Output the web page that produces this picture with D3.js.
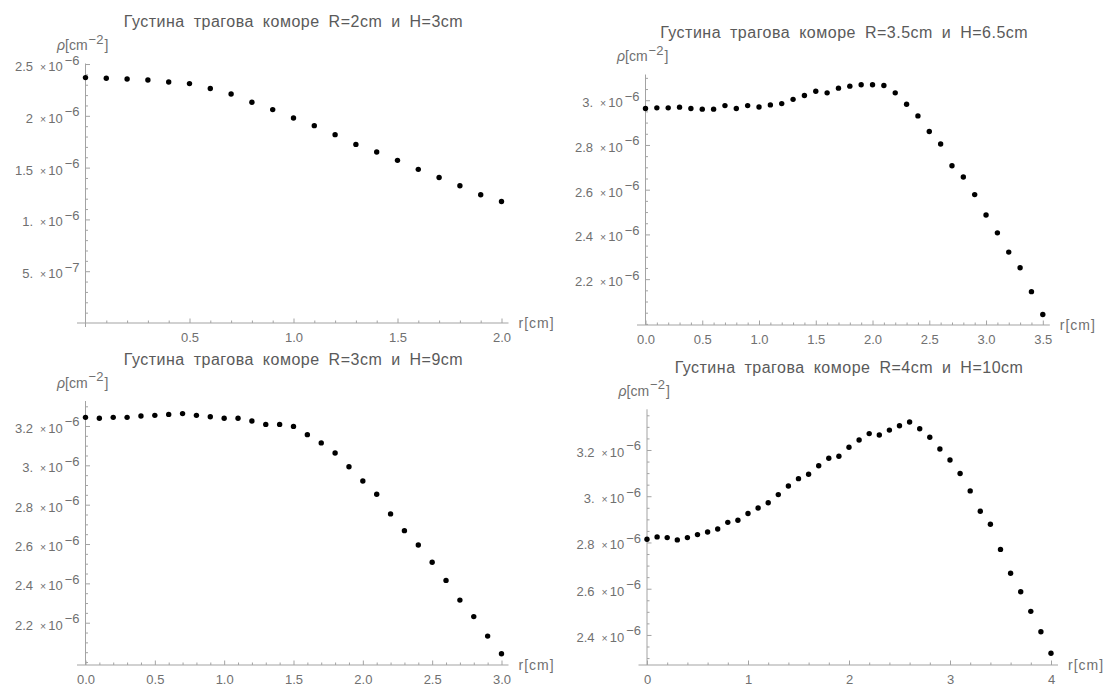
<!DOCTYPE html>
<html>
<head>
<meta charset="utf-8">
<script src="https://cdn.jsdelivr.net/npm/d3@7"></script>
<style>
  body { margin: 0; background: #fff; }
  svg { display: block; }
  text { font-family: "Liberation Sans", Arial, sans-serif; }
</style>
</head>
<body>
<svg id="chart" width="1105" height="686"></svg>
<script>
// Radial track density in four chamber geometries.
// r in cm, density in units of 10^-6 cm^-2.

const titles = [
  "Густина трагова коморе R=2cm и H=3cm",
  "Густина трагова коморе R=3.5cm и H=6.5cm",
  "Густина трагова коморе R=3cm и H=9cm",
  "Густина трагова коморе R=4cm и H=10cm"
];

const r1 = [0.0,0.1,0.2,0.3,0.4,0.5,0.6,0.7,0.8,0.9,1.0,1.1,1.2,1.3,1.4,1.5,1.6,1.7,1.8,1.9,2.0];
const rho1 = [2.369,2.363,2.356,2.346,2.327,2.311,2.263,2.211,2.131,2.060,1.979,1.905,1.818,1.724,1.650,1.570,1.483,1.405,1.325,1.238,1.173];

const r2 = [0.0,0.1,0.2,0.3,0.4,0.5,0.6,0.7,0.8,0.9,1.0,1.1,1.2,1.3,1.4,1.5,1.6,1.7,1.8,1.9,2.0,2.1,2.2,2.3,2.4,2.5,2.6,2.7,2.8,2.9,3.0,3.1,3.2,3.3,3.4,3.5];
const rho2 = [2.963,2.966,2.966,2.969,2.963,2.960,2.960,2.976,2.963,2.976,2.970,2.979,2.985,3.004,3.021,3.040,3.033,3.054,3.063,3.069,3.069,3.066,3.033,2.982,2.930,2.860,2.804,2.707,2.657,2.578,2.487,2.407,2.321,2.251,2.144,2.042];

const r3 = [0.0,0.1,0.2,0.3,0.4,0.5,0.6,0.7,0.8,0.9,1.0,1.1,1.2,1.3,1.4,1.5,1.6,1.7,1.8,1.9,2.0,2.1,2.2,2.3,2.4,2.5,2.6,2.7,2.8,2.9,3.0];
const rho3 = [3.244,3.239,3.244,3.244,3.251,3.254,3.259,3.263,3.254,3.247,3.239,3.239,3.225,3.208,3.208,3.198,3.156,3.114,3.063,2.993,2.920,2.853,2.753,2.668,2.595,2.507,2.415,2.315,2.231,2.132,2.042];

const r4 = [0.0,0.1,0.2,0.3,0.4,0.5,0.6,0.7,0.8,0.9,1.0,1.1,1.2,1.3,1.4,1.5,1.6,1.7,1.8,1.9,2.0,2.1,2.2,2.3,2.4,2.5,2.6,2.7,2.8,2.9,3.0,3.1,3.2,3.3,3.4,3.5,3.6,3.7,3.8,3.9,4.0];
const rho4 = [2.814,2.824,2.821,2.811,2.821,2.834,2.845,2.858,2.887,2.896,2.925,2.949,2.972,3.007,3.044,3.076,3.095,3.132,3.164,3.173,3.212,3.243,3.271,3.265,3.286,3.305,3.321,3.292,3.255,3.204,3.157,3.098,3.023,2.935,2.879,2.770,2.667,2.587,2.502,2.414,2.321];

// Axis ranges (x in cm, y in 10^-6 cm^-2)
const xDom1 = [0, 2.0],  yDom1 = [0, 2.505];
const xDom2 = [0, 3.5],  yDom2 = [1.995, 3.115];
const xDom3 = [0, 3.0],  yDom3 = [1.985, 3.327];
const xDom4 = [0, 4.0],  yDom4 = [2.27, 3.376];

// Tick values and labels
const xTicks1 = [0.5, 1.0, 1.5, 2.0];
const xTickLabels1 = ["0.5", "1.0", "1.5", "2.0"];
const xTicks2 = [0, 0.5, 1.0, 1.5, 2.0, 2.5, 3.0, 3.5];
const xTickLabels2 = ["0.0", "0.5", "1.0", "1.5", "2.0", "2.5", "3.0", "3.5"];
const xTicks3 = [0, 0.5, 1.0, 1.5, 2.0, 2.5, 3.0];
const xTickLabels3 = ["0.0", "0.5", "1.0", "1.5", "2.0", "2.5", "3.0"];
const xTicks4 = [0, 1, 2, 3, 4];
const xTickLabels4 = ["0", "1", "2", "3", "4"];

const yTicks1 = [0.5, 1.0, 1.5, 2.0, 2.5];
const yTickMant1 = ["5.", "1.", "1.5", "2", "2.5"];
const yTickExp1 = ["−7", "−6", "−6", "−6", "−6"];
const yTicks2 = [2.2, 2.4, 2.6, 2.8, 3.0];
const yTickMant2 = ["2.2", "2.4", "2.6", "2.8", "3."];
const yTickExp2 = ["−6", "−6", "−6", "−6", "−6"];
const yTicks3 = [2.2, 2.4, 2.6, 2.8, 3.0, 3.2];
const yTickMant3 = ["2.2", "2.4", "2.6", "2.8", "3.", "3.2"];
const yTickExp3 = ["−6", "−6", "−6", "−6", "−6", "−6"];
const yTicks4 = [2.4, 2.6, 2.8, 3.0, 3.2];
const yTickMant4 = ["2.4", "2.6", "2.8", "3.", "3.2"];
const yTickExp4 = ["−6", "−6", "−6", "−6", "−6"];

const xMinorStep = [0.1, 0.1, 0.1, 0.2];
const yMinorStep = [0.1, 0.05, 0.05, 0.05];

const AXIS = "#a3a3a3";
const LABEL = "#707070";
const TITLE = "#5a5a5a";

// Pixel frame of each panel: x range and y range of the plotting area
const frames = [
  { x: [85.5, 501.5],  y: [323, 63.5] },
  { x: [645.5, 1042.8], y: [325, 74.5] },
  { x: [85.5, 501.5],  y: [665, 401] },
  { x: [647, 1051],    y: [665, 409.3] }
];

const panels = [
  { title: titles[0], r: r1, rho: rho1, xDom: xDom1, yDom: yDom1, xT: xTicks1, xL: xTickLabels1, yT: yTicks1, yM: yTickMant1, yE: yTickExp1 },
  { title: titles[1], r: r2, rho: rho2, xDom: xDom2, yDom: yDom2, xT: xTicks2, xL: xTickLabels2, yT: yTicks2, yM: yTickMant2, yE: yTickExp2 },
  { title: titles[2], r: r3, rho: rho3, xDom: xDom3, yDom: yDom3, xT: xTicks3, xL: xTickLabels3, yT: yTicks3, yM: yTickMant3, yE: yTickExp3 },
  { title: titles[3], r: r4, rho: rho4, xDom: xDom4, yDom: yDom4, xT: xTicks4, xL: xTickLabels4, yT: yTicks4, yM: yTickMant4, yE: yTickExp4 }
];

const svg = d3.select("#chart");

panels.forEach((p, i) => {
  const f = frames[i];
  const x = d3.scaleLinear().domain(p.xDom).range(f.x);
  const y = d3.scaleLinear().domain(p.yDom).range(f.y);
  const g = svg.append("g");
  const x0 = x(p.xDom[0]), yBase = y(p.yDom[0]), yTop = y(p.yDom[1]);

  // minor ticks
  const xMinor = d3.range(p.xDom[0], p.xDom[1] + 1e-9, xMinorStep[i])
    .filter(v => !p.xT.some(t => Math.abs(t - v) < 1e-6) && v > p.xDom[0] + 1e-9);
  const yMinor = d3.range(Math.ceil(p.yDom[0] / yMinorStep[i] - 1e-6) * yMinorStep[i], p.yDom[1], yMinorStep[i])
    .filter(v => !p.yT.some(t => Math.abs(t - v) < 1e-6) && v > p.yDom[0] + 1e-6);

  const xAxisMinor = d3.axisBottom(x).tickValues(xMinor).tickSize(-2.5).tickSizeOuter(0).tickFormat("");
  const yAxisMinor = d3.axisLeft(y).tickValues(yMinor).tickSize(-2.5).tickSizeOuter(0).tickFormat("");
  g.append("g").attr("transform", `translate(0,${yBase})`).call(xAxisMinor);
  g.append("g").attr("transform", `translate(${x0},0)`).call(yAxisMinor);

  // major x ticks with labels
  const xAxis = d3.axisBottom(x).tickValues(p.xT).tickSize(-4.5).tickSizeOuter(0)
    .tickPadding(9.5).tickFormat((d, k) => p.xL[k]);
  const gx = g.append("g").attr("transform", `translate(0,${yBase})`).call(xAxis);

  // major y ticks; labels are written as mantissa × 10^exp
  const yAxis = d3.axisLeft(y).tickValues(p.yT).tickSize(-4.5).tickSizeOuter(0)
    .tickPadding(6).tickFormat("");
  const gy = g.append("g").attr("transform", `translate(${x0},0)`).call(yAxis);
  gy.selectAll(".tick text").each(function(d, k) {
    const t = d3.select(this).attr("dy", "6.5px").attr("x", -6);
    t.append("tspan").text(p.yM[k]);
    t.append("tspan").attr("dx", 7).style("font-size", "10.5px").text("×");
    t.append("tspan").attr("dx", 2).text("10");
    t.append("tspan").attr("dx", 2).attr("dy", -6.5).style("font-size", "13px").text(p.yE[k]);
  });

  [gx, gy].forEach(a => {
    a.select(".domain").remove();
    a.selectAll(".tick line").attr("stroke", AXIS);
    a.selectAll(".tick text").attr("fill", LABEL).style("font-size", "13px")
      .style("font-family", "'Liberation Sans', Arial, sans-serif");
  });
  g.selectAll(".domain").remove();
  g.selectAll(".tick line").attr("stroke", AXIS);

  // axis lines
  g.append("line").attr("x1", x0 - 8.5).attr("x2", x(p.xDom[1]) + 7)
    .attr("y1", yBase).attr("y2", yBase).attr("stroke", AXIS);
  g.append("line").attr("x1", x0).attr("x2", x0)
    .attr("y1", yBase + (i === 0 ? 4 : 0)).attr("y2", yTop).attr("stroke", AXIS);

  // axis titles
  g.append("text").attr("x", x(p.xDom[1]) + 17).attr("y", yBase + 4.5)
    .attr("fill", LABEL).style("font-size", "14px").style("letter-spacing", "1px").text("r[cm]");

  const yl = g.append("text").attr("x", x0 - 28.5).attr("y", yTop - 13.5)
    .attr("fill", LABEL).style("font-size", "14px");
  yl.append("tspan").style("font-style", "italic").text("ρ");
  yl.append("tspan").text("[cm");
  yl.append("tspan").attr("dx", 1).attr("dy", -6.5).style("font-size", "13px").text("−2");
  yl.append("tspan").attr("dx", 1).attr("dy", 6.5).text("]");

  // chart title
  g.append("text").attr("x", (f.x[0] + f.x[1]) / 2).attr("y", yTop - 36.5)
    .attr("text-anchor", "middle").attr("fill", TITLE).style("font-size", "16px")
    .style("letter-spacing", "0.5px").style("word-spacing", "4px").text(p.title);

  // data points
  g.append("g").selectAll("circle").data(p.r).join("circle")
    .attr("cx", d => x(d)).attr("cy", (d, k) => y(p.rho[k]))
    .attr("r", 2.7).attr("fill", "#000");
});
</script>
</body>
</html>
